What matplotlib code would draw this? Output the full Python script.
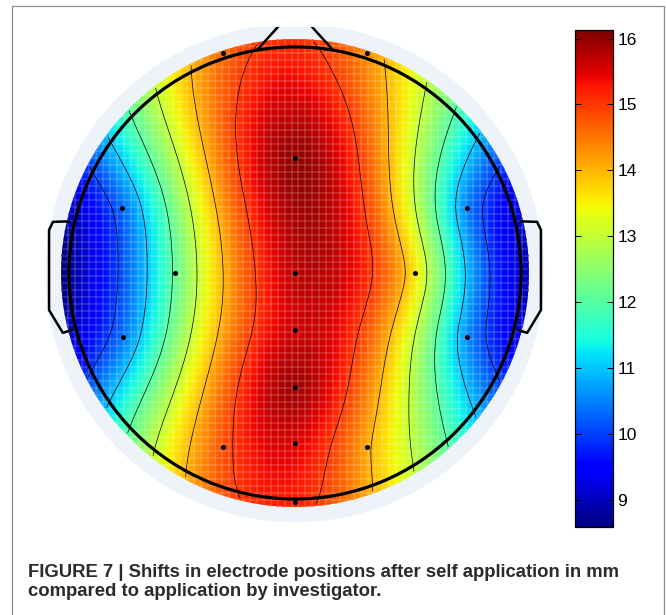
import numpy as np
import matplotlib
matplotlib.use("Agg")
import matplotlib.pyplot as plt
from matplotlib.patches import Circle, Rectangle

# === DATA ===
# electrode positions in head-radius units (nose up)
elec_x = [-0.319, 0.319, 0.0, -0.765, 0.761, -0.531, 0.0, 0.531,
          0.0, -0.761, 0.761, 0.0, -0.319, 0.0, 0.319, 0.0]
elec_y = [0.973, 0.973, 0.509, 0.288, 0.288, 0.0, 0.0, 0.0,
          -0.252, -0.283, -0.283, -0.504, -0.770, -0.752, -0.770, -1.013]
# shift per electrode in mm
shift_mm = [14.6, 14.3, 16.0, 10.3, 10.5, 12.1, 15.7, 13.6,
            15.6, 10.4, 10.6, 15.9, 14.8, 15.5, 14.1, 15.2]

cbar_ticks = [9, 10, 11, 12, 13, 14, 15, 16]
contour_levels = [10, 11, 12, 13, 14, 15]
clim = (8.59, 16.13)
caption = ["FIGURE 7 | Shifts in electrode positions after self application in mm",
           "compared to application by investigator."]

plt.rcParams['font.family'] = ['Liberation Sans', 'DejaVu Sans']


# === INTERPOLATION (biharmonic spline, same as griddata 'v4') ===
def v4(xe, ye, ze, xq, yq):
    xe, ye, ze = np.asarray(xe), np.asarray(ye), np.asarray(ze)
    d = np.hypot(xe[:, None] - xe[None, :], ye[:, None] - ye[None, :])
    with np.errstate(divide='ignore', invalid='ignore'):
        g = np.where(d > 0, d**2 * (np.log(d) - 1), 0.0)
    w = np.linalg.solve(g, ze)
    r = np.hypot(xq[..., None] - xe, yq[..., None] - ye)
    with np.errstate(divide='ignore', invalid='ignore'):
        gq = np.where(r > 0, r**2 * (np.log(r) - 1), 0.0)
    return gq @ w


rmax = 1.035
nodes = np.linspace(-rmax, rmax, 68)
XN, YN = np.meshgrid(nodes, nodes)
Z = v4(elec_x, elec_y, shift_mm, XN, YN)

fine = np.linspace(-rmax, rmax, 241)
XF, YF = np.meshgrid(fine, fine)
ZF = v4(elec_x, elec_y, shift_mm, XF, YF)

# === FIGURE ===
fig = plt.figure(figsize=(6.67, 6.15), dpi=100)
fig.patches.append(Rectangle((12 / 667, -0.05), 652 / 667, 1.05 - 6 / 615,
                             transform=fig.transFigure, fill=False,
                             ec='#8a8a8a', lw=0.9))

ax = fig.add_axes([40 / 667, 1 - 530 / 615, 510 / 667, 503 / 615])
ax.set_xlim(-1.128, 1.128)
ax.set_ylim(-1.137, 1.088)
ax.axis('off')

ax.add_patch(Circle((0, 0), 1.10, color='#edf3f8', zorder=0))
mesh = ax.pcolormesh(XN, YN, Z, cmap='jet', vmin=clim[0], vmax=clim[1],
                     shading='gouraud', zorder=1)
mesh.set_clip_path(Circle((0, 0), rmax, transform=ax.transData))
# faint grid texture of the surface
grid = ax.pcolormesh(nodes, nodes, np.zeros((67, 67)), facecolor='none',
                     edgecolors=(1, 1, 1, 0.08), linewidth=0.25, zorder=1.5)
grid.set_clip_path(Circle((0, 0), rmax, transform=ax.transData))

cs = ax.contour(XF, YF, ZF, levels=contour_levels, colors='k',
                linewidths=0.5, zorder=2)
cs.set_clip_path(Circle((0, 0), 1.025, transform=ax.transData))

# head, nose, ears
ax.add_patch(Circle((0, 0), 1.0, fill=False, ec='k', lw=2.3, zorder=4))
ax.plot([-0.168, 0, 0.168], [0.986, 1.172, 0.986], color='k', lw=1.8, zorder=4)
ear_x = [1.0, 1.009, 1.071, 1.088, 1.088, 1.027, 0.987]
ear_y = [0.226, 0.228, 0.226, 0.19, -0.164, -0.265, -0.252]
ax.plot(ear_x, ear_y, color='k', lw=1.8, zorder=4, solid_joinstyle='round')
ax.plot([-v for v in ear_x], ear_y, color='k', lw=1.8, zorder=4,
        solid_joinstyle='round')

ax.plot(elec_x, elec_y, 'o', color='k', ms=2.6, zorder=5)

# === COLORBAR ===
cax = fig.add_axes([575 / 667, 1 - 527 / 615, 38 / 667, 497 / 615])
cb = fig.colorbar(mesh, cax=cax, ticks=cbar_ticks)
cb.outline.set_linewidth(0.9)
cax.tick_params(direction='in', length=4, width=0.7, left=True, right=True,
                labelsize=12.5, pad=3)

# === CAPTION ===
fig.text(27.7 / 667, 1 - 577 / 615, caption[0], fontsize=13.3, weight='bold',
         color='#2a2a2a', va='baseline')
fig.text(27.7 / 667, 1 - 596 / 615, caption[1], fontsize=13.3, weight='bold',
         color='#2a2a2a', va='baseline')

fig.savefig("out.png", dpi=100)
